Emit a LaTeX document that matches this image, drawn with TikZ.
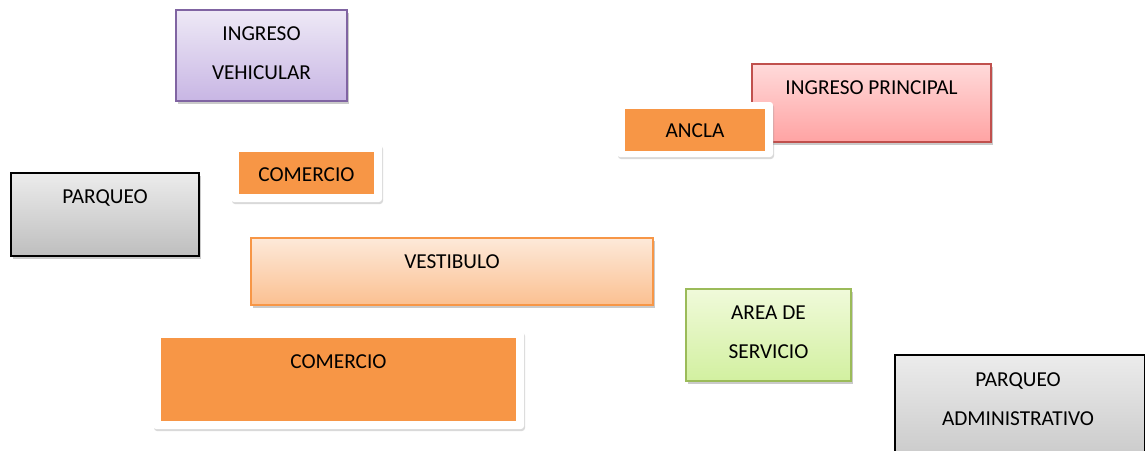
\documentclass[tikz,border=0pt]{standalone}
\usepackage{fontspec}
\setmainfont{Carlito}
\usetikzlibrary{shadows}
\definecolor{orng}{HTML}{F79646}
\tikzset{
  box/.style={rectangle, inner sep=0pt, outer sep=0pt, line width=1.3pt,
    drop shadow={shadow xshift=2pt, shadow yshift=-3pt, opacity=0.35, fill=black!60}},
  frame/.style={rectangle, rounded corners=3pt, fill=white, inner sep=0pt, outer sep=0pt,
    drop shadow={shadow xshift=1pt, shadow yshift=-2pt, opacity=0.25, fill=black!60}},
  inner/.style={rectangle, fill=orng, inner sep=0pt, outer sep=0pt},
  lbl/.style={font=\fontsize{21.3}{25}\selectfont, text=black, inner sep=0pt, anchor=center}
}
\begin{document}
\begin{tikzpicture}[x=1pt,y=-1pt]
\useasboundingbox (0,0) rectangle (1145,450);
% INGRESO VEHICULAR
\node[box, draw={rgb,255:red,128;green,100;blue,162}, top color={rgb,255:red,238;green,233;blue,246}, bottom color={rgb,255:red,200;green,182;blue,228}, minimum width=171pt, minimum height=91pt] (iv) at (261.5,55.5) {};
\node[lbl] (ivt1) at (261.5,34) {INGRESO};
\node[lbl] (ivt2) at (261.5,73) {VEHICULAR};
% PARQUEO
\node[box, draw=black, line width=1.8pt, top color={rgb,255:red,236;green,236;blue,236}, bottom color={rgb,255:red,190;green,190;blue,190}, minimum width=188pt, minimum height=83pt] (pq) at (105,214.5) {};
\node[lbl] (pqt) at (105,198) {PARQUEO};
% COMERCIO small
\node[frame, minimum width=151pt, minimum height=58pt] (c1f) at (306.5,173) {};
\node[inner, minimum width=135pt, minimum height=42pt] (c1) at (306.5,173) {};
\node[lbl] (c1t) at (306.5,175) {COMERCIO};
% VESTIBULO
\node[box, draw=orng, top color={rgb,255:red,253;green,233;blue,217}, bottom color={rgb,255:red,251;green,192;blue,145}, minimum width=402pt, minimum height=67pt] (vs) at (452,271.5) {};
\node[lbl] (vst) at (452,262) {VESTIBULO};
% COMERCIO big
\node[frame, minimum width=371pt, minimum height=98pt] (c2f) at (338.5,380) {};
\node[inner, minimum width=355pt, minimum height=83pt] (c2) at (338.5,379.5) {};
\node[lbl] (c2t) at (338.5,362) {COMERCIO};
% INGRESO PRINCIPAL
\node[box, draw={rgb,255:red,192;green,80;blue,77}, top color={rgb,255:red,255;green,218;blue,218}, bottom color={rgb,255:red,255;green,163;blue,163}, minimum width=239pt, minimum height=78pt] (ip) at (871.5,103) {};
\node[lbl] (ipt) at (871.5,88) {INGRESO PRINCIPAL};
% ANCLA
\node[frame, minimum width=156pt, minimum height=55pt] (anf) at (695,129.5) {};
\node[inner, minimum width=140pt, minimum height=42pt] (an) at (695,130) {};
\node[lbl] (ant) at (695,131) {ANCLA};
% AREA DE SERVICIO
\node[box, draw={rgb,255:red,155;green,187;blue,89}, top color={rgb,255:red,240;green,250;blue,218}, bottom color={rgb,255:red,210;green,240;blue,160}, minimum width=165pt, minimum height=92pt] (as) at (768.5,335) {};
\node[lbl] (ast1) at (768.5,313) {AREA DE};
\node[lbl] (ast2) at (768.5,352) {SERVICIO};
% PARQUEO ADMINISTRATIVO
\node[box, draw=black, line width=1.8pt, top color={rgb,255:red,236;green,236;blue,236}, bottom color={rgb,255:red,200;green,200;blue,200}, minimum width=250pt, minimum height=110pt] (pa) at (1020,410) {};
\node[lbl] (pat1) at (1018,381) {PARQUEO};
\node[lbl] (pat2) at (1018,419) {ADMINISTRATIVO};
\end{tikzpicture}
\end{document}
